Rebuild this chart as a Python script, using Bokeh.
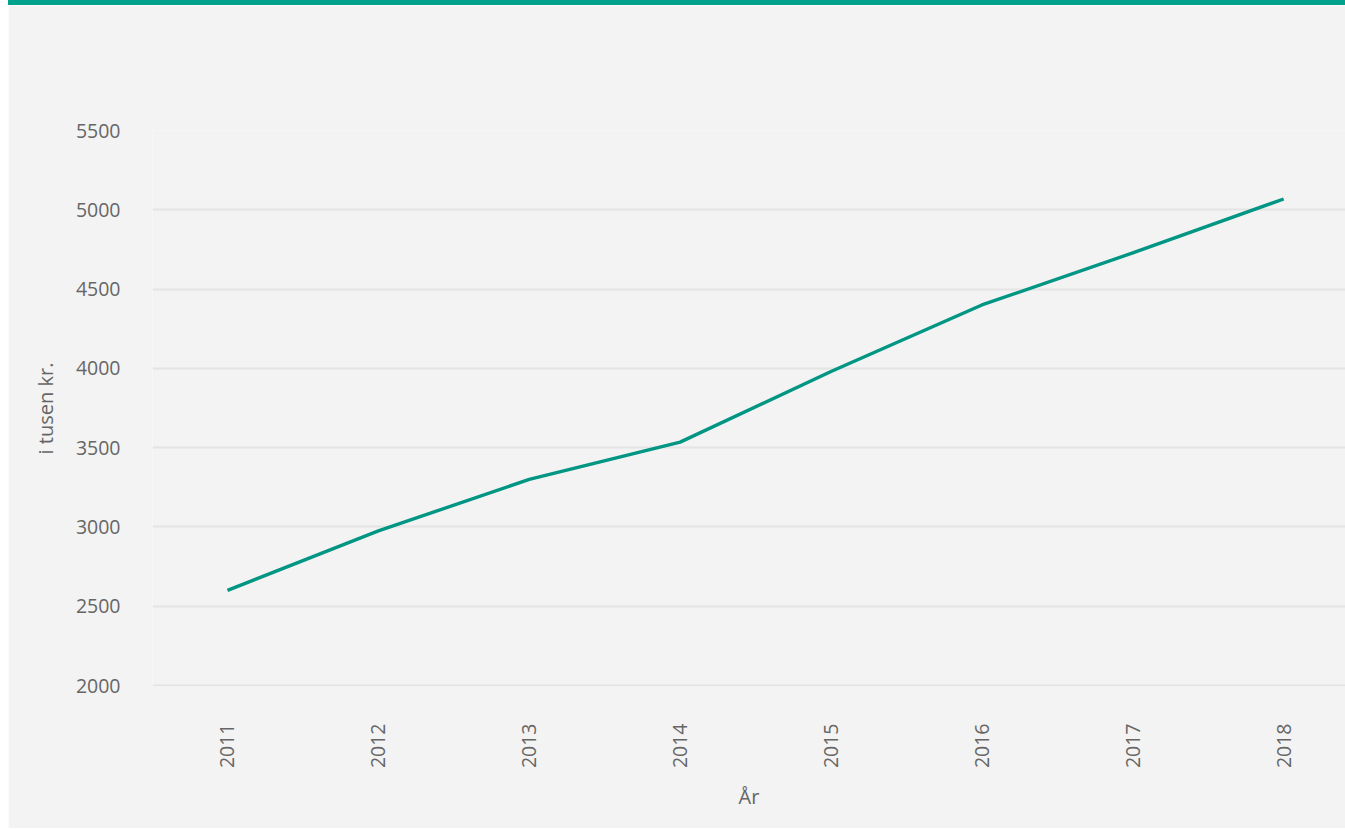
from bokeh.plotting import figure
from bokeh.models import Range1d, FixedTicker, Div, ColumnDataSource
from bokeh.layouts import column
from bokeh.embed import file_html
from bokeh.resources import INLINE
import math

years = [2011, 2012, 2013, 2014, 2015, 2016, 2017, 2018]
values = [2600, 2975, 3300, 3535, 3980, 4400, 4728, 5068]
y_ticks = [2000, 2500, 3000, 3500, 4000, 4500, 5000, 5500]

FONT = "Open Sans"
TXT = "#666666"
BG = "#f3f3f3"
TEAL = "#009683"

src = ColumnDataSource(data=dict(year=years, value=values))

# frame: x 152..1345, y 130..~686 on the page
p = figure(width=1337, height=823, output_backend="svg", toolbar_location=None,
           x_range=Range1d(2010.503, 2018.41), y_range=Range1d(1994, 5500),
           margin=(0, 0, 0, 8))
p.background_fill_color = BG
p.border_fill_color = BG
p.outline_line_color = None
p.min_border_left = 144
p.min_border_right = 0
p.min_border_top = 125
p.min_border_bottom = 142

p.line("year", "value", source=src, line_color=TEAL, line_width=3.4)

p.xgrid.grid_line_color = None
p.ygrid.grid_line_color = "#e4e4e4"
p.ygrid.grid_line_width = 2
p.ygrid.ticker = FixedTicker(ticks=y_ticks)

p.yaxis.ticker = FixedTicker(ticks=y_ticks)
p.xaxis.ticker = FixedTicker(ticks=years)
for ax in (p.xaxis[0], p.yaxis[0]):
    ax.axis_line_color = None
    ax.major_tick_line_color = None
    ax.minor_tick_line_color = None
    ax.major_tick_out = 0
    ax.major_tick_in = 0
    ax.major_label_text_font = FONT
    ax.major_label_text_font_size = "19.5px"
    ax.major_label_text_color = TXT
    ax.axis_label_text_font = FONT
    ax.axis_label_text_font_size = "20px"
    ax.axis_label_text_color = TXT
    ax.axis_label_text_font_style = "normal"

p.yaxis.axis_label = "i tusen kr."
p.yaxis.major_label_standoff = 32
p.yaxis.axis_label_standoff = 14
p.xaxis.axis_label = "År"
p.xaxis.major_label_orientation = math.pi / 2
p.xaxis.major_label_standoff = 37
p.xaxis.axis_label_standoff = 12

bar = Div(text="", width=1337, height=5, margin=(0, 0, 0, 8),
          styles={"background-color": "#00a18d"})
layout = column(bar, p, spacing=0)

open("out.html", "w").write(file_html(layout, INLINE))
